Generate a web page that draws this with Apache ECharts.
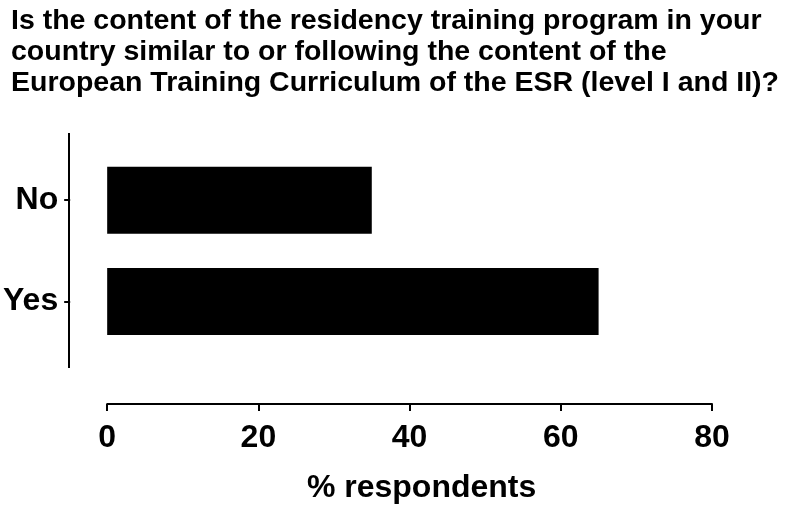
<!DOCTYPE html>
<html>
<head>
<meta charset="utf-8">
<script src="https://cdn.jsdelivr.net/npm/echarts@6/dist/echarts.min.js"></script>
<style>
  html, body { margin: 0; padding: 0; background: #fff; }
  #main { width: 786px; height: 505px; }
</style>
</head>
<body>
<div id="main"></div>
<script>
// categories bottom-to-top
const answers = ['Yes', 'No'];
const respondents = [65, 35];
const xTicks = [0, 20, 40, 60, 80];

const titleText = 'Is the content of the residency training program in your\n' +
  'country similar to or following the content of the\n' +
  'European Training Curriculum of the ESR (level I and II)?';

const font = '"Liberation Sans", Arial, sans-serif';

var myChart = echarts.init(document.getElementById('main'));
let options = {
  animation: false,
  title: {
    text: titleText,
    left: 6,
    top: 1,
    textStyle: { fontFamily: font, fontWeight: 'bold', fontSize: 28.5, lineHeight: 31, color: '#000' }
  },
  grid: { left: 106, right: 74, top: 149.5, height: 203.5, containLabel: false },
  xAxis: {
    type: 'value',
    min: xTicks[0],
    max: xTicks[xTicks.length - 1],
    interval: 20,
    offset: 52,
    name: '% respondents',
    nameLocation: 'middle',
    nameGap: 68,
    nameTextStyle: { fontFamily: font, fontWeight: 'bold', fontSize: 32, color: '#000', padding: [0, 0, 0, 24] },
    axisLine: { show: true, lineStyle: { color: '#000', width: 2 } },
    axisTick: { show: true, length: 7, lineStyle: { color: '#000', width: 2 } },
    axisLabel: { fontFamily: font, fontWeight: 'bold', fontSize: 32, color: '#000', margin: 18 },
    splitLine: { show: false }
  },
  yAxis: {
    type: 'category',
    data: answers,
    offset: 37,
    axisLine: { show: false, onZero: false },
    axisTick: { show: true, alignWithLabel: true, length: 6, lineStyle: { color: '#000', width: 2 } },
    axisLabel: { fontFamily: font, fontWeight: 'bold', fontSize: 32, color: '#000', margin: 12 }
  },
  graphic: [{
    // y axis line runs past the bands, Prism-style
    type: 'line',
    shape: { x1: 69, y1: 133, x2: 69, y2: 368 },
    style: { stroke: '#000', lineWidth: 2 }
  }],
  series: [{
    name: '% respondents',
    type: 'bar',
    data: respondents,
    barWidth: 67,
    itemStyle: { color: '#000' }
  }]
};
myChart.setOption(options);
</script>
</body>
</html>
